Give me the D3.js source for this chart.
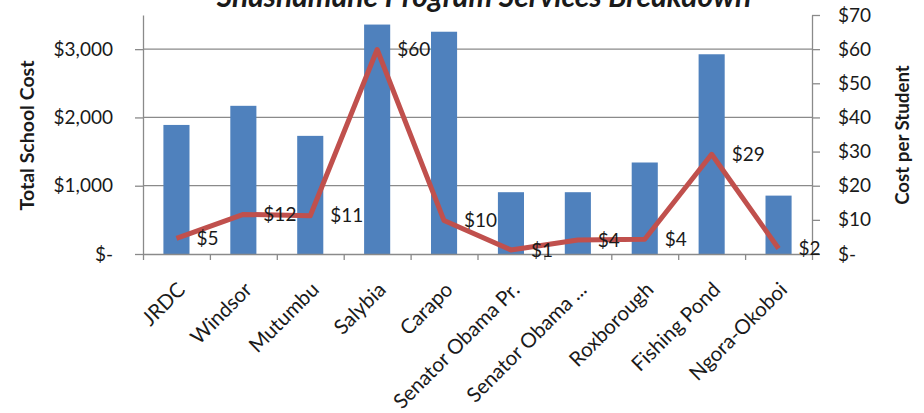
<!DOCTYPE html>
<html>
<head>
<meta charset="utf-8">
<script src="https://cdn.jsdelivr.net/npm/d3@7"></script>
<style>
  body { margin: 0; background: #fff; }
  svg text { font-family: Lato, 'Open Sans', sans-serif; fill: #1a1a1a; }
</style>
</head>
<body>
<svg id="chart"></svg>
<script>
const categories = ['JRDC', 'Windsor', 'Mutumbu', 'Salybia', 'Carapo', 'Senator Obama Pr.',
  'Senator Obama ...', 'Roxborough', 'Fishing Pond', 'Ngora-Okoboi'];
const totalCost = [1890, 2170, 1730, 3360, 3255, 905, 905, 1340, 2925, 855];
const costPerStudent = [4.6, 11.6, 11.2, 59.9, 9.8, 1.2, 4.1, 4.3, 29.2, 1.6];
const leftTicks = [0, 1000, 2000, 3000];
const rightTicks = [0, 10, 20, 30, 40, 50, 60, 70];

const width = 924;
const height = 413;
const margin = { top: 15, right: 112, bottom: 159, left: 143 };
const w = width - margin.left - margin.right;
const h = height - margin.top - margin.bottom;

const svg = d3.select('#chart')
  .attr('width', width)
  .attr('height', height);

const g = svg.append('g')
  .attr('transform', `translate(${margin.left},${margin.top})`);

const x = d3.scaleBand().domain(categories).range([0, w]).paddingInner(0.61).paddingOuter(0.305);
const xEdge = d3.scaleLinear().domain([0, categories.length]).range([0, w]);
const yLeft = d3.scaleLinear().domain([0, 3500]).range([h, 0]);
const yRight = d3.scaleLinear().domain([0, 70]).range([h, 0]);

const money = d => (d === 0 ? '$-' : '$' + d3.format(',')(d));
const axisColor = '#8a8a8a';

// gridlines
g.append('g')
  .selectAll('line')
  .data(leftTicks.filter(d => d > 0))
  .enter().append('line')
  .attr('x1', 0)
  .attr('x2', w)
  .attr('y1', d => yLeft(d))
  .attr('y2', d => yLeft(d))
  .attr('stroke', axisColor)
  .attr('stroke-width', 1.3);

// bars
g.append('g')
  .selectAll('rect')
  .data(totalCost)
  .enter().append('rect')
  .attr('x', (d, i) => x(categories[i]))
  .attr('y', d => yLeft(d))
  .attr('width', x.bandwidth())
  .attr('height', d => h - yLeft(d))
  .attr('fill', '#4f81bd');

// axes
const leftAxis = g.append('g')
  .call(d3.axisLeft(yLeft).tickValues(leftTicks).tickSize(8).tickSizeOuter(0).tickFormat(money));
leftAxis.select('.domain').attr('stroke', axisColor).attr('stroke-width', 1.3);
leftAxis.selectAll('.tick line').attr('stroke', axisColor).attr('stroke-width', 1.3);
leftAxis.selectAll('.tick text').attr('x', -30).attr('font-size', 19).attr('fill', '#1a1a1a');

const rightAxis = g.append('g')
  .attr('transform', `translate(${w},0)`)
  .call(d3.axisRight(yRight).tickValues(rightTicks).tickSize(8).tickSizeOuter(0).tickFormat(money));
rightAxis.select('.domain').attr('stroke', axisColor).attr('stroke-width', 1.3);
rightAxis.selectAll('.tick line').attr('stroke', axisColor).attr('stroke-width', 1.3);
rightAxis.selectAll('.tick text').attr('x', 26).attr('font-size', 19).attr('fill', '#1a1a1a');

const bottomAxis = g.append('g')
  .attr('transform', `translate(0,${h})`)
  .call(d3.axisBottom(xEdge).tickValues(d3.range(categories.length + 1)).tickSize(6).tickSizeOuter(0).tickFormat(''));
bottomAxis.select('.domain').attr('stroke', axisColor).attr('stroke-width', 1.3);
bottomAxis.selectAll('.tick line').attr('stroke', axisColor).attr('stroke-width', 1.3);

// category labels
g.append('g')
  .selectAll('text')
  .data(categories)
  .enter().append('text')
  .attr('transform', d => `translate(${x(d) + x.bandwidth() / 2 + 10},${h + 37}) rotate(-45)`)
  .attr('text-anchor', 'end')
  .attr('font-size', 20.5)
  .text(d => d);

// line
const line = d3.line()
  .x((d, i) => x(categories[i]) + x.bandwidth() / 2)
  .y(d => yRight(d));

g.append('path')
  .datum(costPerStudent)
  .attr('d', line)
  .attr('fill', 'none')
  .attr('stroke', '#c0504d')
  .attr('stroke-width', 5)
  .attr('stroke-linejoin', 'round');

// data labels
g.append('g')
  .selectAll('text')
  .data(costPerStudent)
  .enter().append('text')
  .attr('x', (d, i) => x(categories[i]) + x.bandwidth() / 2 + 20)
  .attr('y', d => yRight(d))
  .attr('dy', '0.35em')
  .attr('font-size', 19)
  .text(d => '$' + Math.round(d));

// axis titles
svg.append('text')
  .attr('transform', `translate(34,135.5) rotate(-90)`)
  .attr('text-anchor', 'middle')
  .attr('font-size', 19.5)
  .attr('font-weight', 'bold')
  .text('Total School Cost');

svg.append('text')
  .attr('transform', `translate(909,135) rotate(-90)`)
  .attr('text-anchor', 'middle')
  .attr('font-size', 18.7)
  .attr('font-weight', 'bold')
  .text('Cost per Student');

// title
svg.append('text')
  .attr('x', 484)
  .attr('y', 7)
  .attr('text-anchor', 'middle')
  .attr('font-size', 30)
  .attr('font-weight', 'bold')
  .attr('font-style', 'italic')
  .text('Shashamane Program Services Breakdown');
</script>
</body>
</html>
